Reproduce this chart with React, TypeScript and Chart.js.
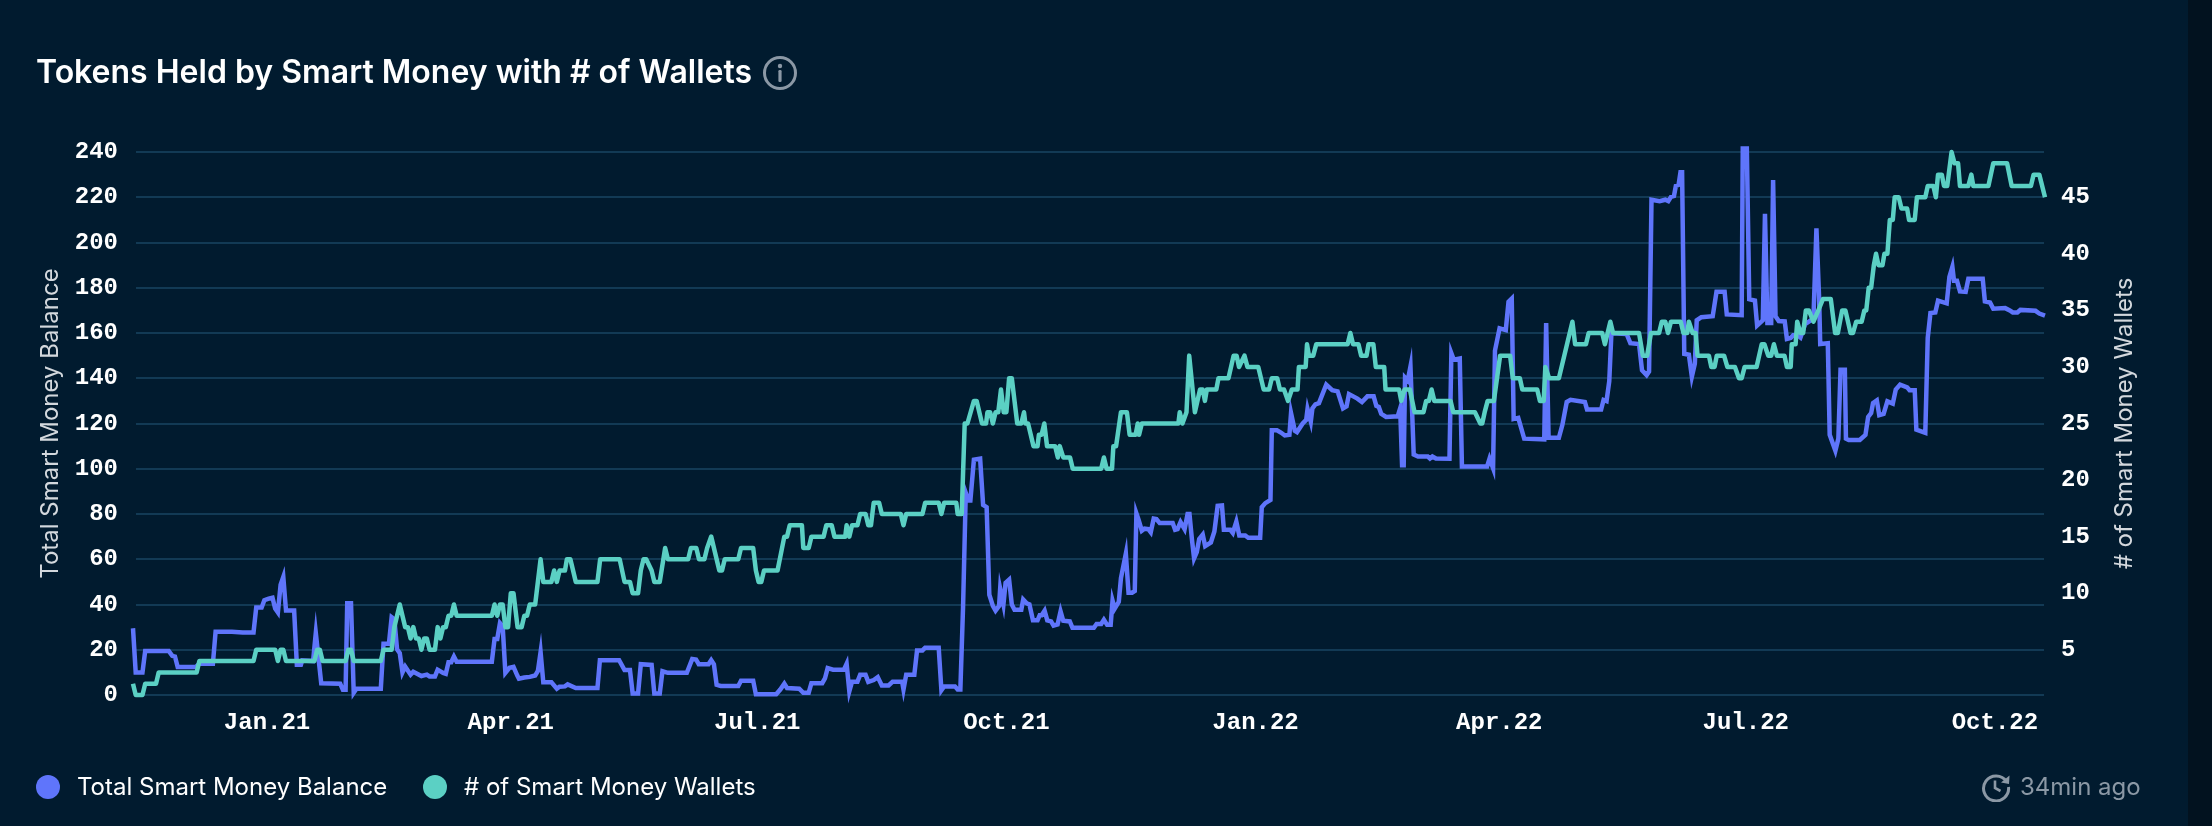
import React, { useEffect, useRef } from "react";
import { Chart, registerables } from "chart.js";
Chart.register(...registerables);

const titleText = "Tokens Held by Smart Money with # of Wallets";
const balanceName = "Total Smart Money Balance";
const walletsName = "# of Smart Money Wallets";
const updatedText = "34min ago";

// x is days since 12 Nov 2020
const tickDays = [50, 140, 231, 323, 415, 505, 596, 688];
const tickLabels = ["Jan.21", "Apr.21", "Jul.21", "Oct.21", "Jan.22", "Apr.22", "Jul.22", "Oct.22"];
const walletTicks = [5, 10, 15, 20, 25, 30, 35, 40, 45];

const walletDays = [
  0.5, 1.5, 4, 5, 9, 10, 24, 25, 45, 46, 53, 54, 55, 56, 57, 67.5, 68.5, 69.5, 70.5, 79, 80, 81, 82, 92, 93, 96, 97, 99, 101, 102,
  103, 104, 105, 106, 107, 108, 109, 110, 112, 113, 114, 115, 116, 117, 118, 119, 120, 133, 134, 135, 136, 137, 138, 139, 140, 141, 142.5, 144, 145, 146,
  147, 149, 150, 151, 152, 155, 156, 157, 158, 160, 160.7, 162, 164, 172, 173, 180.2, 182, 184, 185, 187, 188, 189, 190, 192, 193, 195, 197, 198, 205.5, 206.5,
  208.5, 209.5, 211.5, 212.5, 214, 217, 218, 219, 224, 225, 229.5, 230.5, 231.5, 232.5, 233.5, 238.5, 241, 242, 243, 247.5, 248, 250, 251, 255.5, 256.5, 258.5, 259.5, 263.5, 264, 265,
  266, 268, 269, 271, 272, 273, 274, 276, 277, 284, 285, 286, 292, 293, 298, 299, 300, 304.5, 305, 306.5, 307.6, 308.6, 311, 312, 314, 315.5, 316, 317, 318, 319,
  320, 321, 322, 323, 324, 325, 327, 328.5, 329.5, 330, 331, 333, 334.5, 335, 336, 337, 338, 341, 342, 342.7, 344, 346.5, 347.5, 358, 359, 360, 362, 362.5,
  363.5, 365.3, 367.5, 368.5, 370.7, 371.5, 372, 373, 386.5, 387, 388, 389.5, 390.5, 392.6, 394.5, 395.5, 396.3, 397, 400.5, 401.3, 405, 406.9, 408, 408.9, 410.9, 412, 416, 418, 420, 421,
  423, 424, 425.5, 427, 428.4, 430.5, 431, 433.5, 434, 434.7, 436.3, 437.4, 449, 450, 451, 453, 454, 456, 456.7, 458.5, 459.4, 462.5, 463, 468, 468.8, 470, 472, 473.7, 477, 478,
  479, 480, 481, 487, 488, 496, 498, 498.7, 499.6, 500.7, 503, 505.3, 509, 510, 512.6, 513.5, 519, 520, 521.4, 522, 523.4, 527, 532, 533, 537, 538, 543, 544,
  545, 546, 547, 556.6, 558, 559.6, 561, 564, 565, 566.3, 567.3, 568.4, 572, 573, 574.4, 575, 576.4, 577.5, 578.2, 582.4, 583.3, 584.5, 585.3, 588, 589.2, 592, 593.5, 594.5, 595.6, 600,
  601.9, 602.9, 604.3, 605.4, 606.4, 607.5, 610.3, 611.2, 612.6, 613, 614.4, 615, 616.2, 617.2, 618.2, 619.3, 621, 622.8, 624.5, 627.4, 629, 630, 631.6, 632.8, 634.7, 635.6, 636.8, 638.8, 639.8, 640.5,
  641.4, 642.3, 643.3, 644.1, 645, 646.5, 647.2, 648.3, 649.2, 650.3, 651, 652.5, 653.5, 655.6, 656.3, 658.4, 659.2, 662.3, 663.2, 665.3, 666.2, 667, 668.4, 669.2, 670.4, 672, 673.1, 674.4, 675.1, 678.2,
  679.3, 680, 685.6, 687.4, 692.5, 694.2, 701.3, 702.3, 704.4, 706.5,
];
const walletValues = [
  2, 1, 1, 2, 2, 3, 3, 4, 4, 5, 5, 4, 5, 5, 4, 4, 5, 5, 4, 4, 5, 5, 4, 4, 5, 5, 7, 9, 7, 7,
  6, 7, 6, 6, 5, 6, 6, 5, 5, 7, 6, 7, 7, 8, 8, 9, 8, 8, 9, 8, 9, 9, 7, 7, 10, 10, 7, 7, 8, 8,
  9, 9, 11, 13, 11, 11, 12, 11, 12, 12, 13, 13, 11, 11, 13, 13, 11, 11, 10, 10, 12, 13, 13, 12, 11, 11, 14, 13, 13, 14,
  14, 13, 13, 14, 15, 12, 12, 13, 13, 14, 14, 12, 11, 11, 12, 12, 15, 15, 16, 16, 14, 14, 15, 15, 16, 16, 15, 15, 16, 15,
  16, 16, 17, 17, 16, 16, 18, 18, 17, 17, 16, 17, 17, 18, 18, 17, 18, 18, 17, 17, 25, 25, 27, 27, 25, 25, 26, 26, 25, 26,
  26, 28, 26, 26, 29, 29, 25, 25, 26, 25, 25, 23, 23, 24, 24, 25, 23, 23, 22, 23, 22, 22, 21, 21, 22, 21, 21, 23,
  23, 26, 26, 24, 24, 25, 24, 25, 25, 26, 25, 26, 31, 26, 28, 28, 27, 28, 28, 29, 29, 31, 31, 30, 31, 30, 30, 28, 28, 29,
  29, 28, 28, 27, 28, 28, 30, 30, 32, 31, 31, 32, 32, 33, 32, 32, 31, 31, 32, 32, 30, 30, 28, 28, 27, 28, 28, 26, 26, 27,
  27, 28, 27, 27, 26, 26, 25, 25, 26, 27, 27, 31, 31, 29, 29, 28, 28, 27, 27, 30, 29, 29, 34, 32, 32, 33, 33, 32,
  33, 34, 33, 33, 31, 31, 33, 33, 34, 34, 33, 34, 34, 33, 33, 34, 33, 33, 31, 31, 30, 30, 31, 31, 30, 30, 29, 29, 30, 30,
  32, 32, 31, 31, 32, 31, 31, 30, 30, 32, 32, 34, 33, 33, 35, 35, 34, 35, 36, 36, 33, 33, 35, 35, 33, 33, 34, 34, 35, 35,
  37, 37, 39, 40, 39, 39, 40, 40, 43, 43, 45, 45, 44, 44, 43, 43, 45, 45, 46, 46, 45, 47, 47, 46, 46, 49, 48, 48, 46, 46,
  47, 46, 46, 48, 48, 46, 46, 47, 47, 45,
];

const balanceDays = [
  0.5, 1.5, 4, 5, 13.7, 15, 16, 17, 23.7, 25, 30, 31, 37, 41, 45, 46, 48, 49, 50.6, 52, 53, 54, 55, 56, 57, 60, 61, 62.5, 63, 67,
  68, 70, 77, 78, 79, 79.6, 81, 82, 83, 92, 93, 95, 96, 97, 98, 99, 100, 101, 103, 104, 107, 109, 110, 112, 113, 115, 116, 117, 118, 119,
  120, 133, 134, 135, 136, 137, 138, 139.5, 141, 142.4, 143, 145, 147, 149, 150, 151, 152, 155, 157, 158, 160, 161, 164, 172, 172.9, 180, 182, 184, 185, 187,
  188, 192, 193, 195, 196, 198, 205, 207, 208.4, 209.4, 213, 214, 215, 216, 217.5, 224, 225, 229.5, 230.5, 238, 239.5, 241, 242, 246.5, 248, 250, 251, 255, 256, 257,
  259, 263, 264, 265, 266, 268, 269, 271, 272, 274, 275.5, 277, 279.5, 281, 284.5, 285, 286, 289, 290, 292, 293, 298, 299, 300, 304, 305, 306, 307, 308, 309,
  309.7, 311, 313.3, 314.4, 315.7, 316.7, 318, 319, 320.3, 320.7, 321.9, 322.7, 324, 325, 326, 328.5, 329.2, 330.5, 331.5, 332.8, 334.5, 335.3, 336, 337.1, 338.1, 339.5, 340.4, 341.9, 343, 344,
  346.4, 347.4, 355.3, 356.3, 358, 359, 360.2, 361.5, 362.2, 363, 364.5, 365.3, 367.1, 368.1, 369.4, 370.4, 371, 371.8, 373, 374, 375.4, 376.3, 377.4, 378.4, 379.6, 384.4, 385.3, 386.2, 387.3, 388.8,
  389.9, 390.6, 391.5, 392.3, 393.3, 394.2, 395.5, 396.4, 398.5, 399.8, 401, 402.6, 403.3, 405.7, 406.6, 407.9, 409, 411.2, 412.3, 416.7, 417.3, 418.6, 420.5, 421, 422.9, 424.5, 425.8, 427.5, 428.1, 429.5,
  430.3, 432.4, 433.7, 434.2, 435.4, 436, 437.1, 438.4, 441.1, 443.3, 445.3, 447.3, 448.6, 449.5, 452.6, 454.3, 456.3, 458.6, 459.6, 460.5, 461.4, 463.2, 467.5, 468.4, 469.1, 469.7, 470.2, 471.2, 472.2, 473.4,
  475, 478.6, 479.4, 480.3, 481.6, 486.6, 487.3, 488.2, 490.4, 491.2, 500.5, 501.4, 502.7, 503.4, 505.1, 507.4, 508.4, 509.6, 510.3, 512, 514.2, 521.6, 522.3, 523.2, 527, 528.3, 529.9, 531.3, 536.6, 537.4,
  542.6, 543.5, 544.6, 545.6, 546.4, 552, 553.4, 556.6, 557.7, 559.4, 560.3, 561.2, 564.2, 566.3, 567.4, 568.4, 569.5, 570.2, 571.2, 571.9, 572.5, 573.3, 575, 576.1, 577.2, 577.9, 579.6, 583.8, 585.2, 588.2,
  589, 594.5, 594.9, 596.4, 597.3, 599.4, 600.2, 602.3, 603.1, 604, 605.4, 606.1, 607, 608.2, 610.4, 611.2, 612.6, 613.5, 615.1, 616.2, 617.9, 620, 621, 622.1, 623.1, 623.5, 626.3, 627, 629.1, 630.2,
  631, 632.6, 633, 634, 638.1, 640.2, 641.2, 642.3, 643, 644.4, 645.3, 646.9, 648.3, 650.3, 651.4, 653, 655.6, 656.5, 658.4, 659, 662.3, 663.2, 664.2, 666, 667, 670.2, 671.2, 672.3, 672.9, 674,
  675.1, 677.2, 678.2, 683.5, 684.3, 686.2, 687.4, 691.8, 693.5, 694.6, 696.3, 697.4, 703, 704.4, 706.5,
];
const balanceValues = [
  29.5, 10, 10, 19.5, 19.5, 17.3, 17, 12.4, 12.4, 13.8, 13.8, 28, 28, 27.6, 27.6, 38.7, 38.7, 41.9, 42.6, 43, 38.2, 36.5, 48.7, 52.2, 37.3, 37.3, 13.4, 13.4, 15.3, 15,
  27.4, 5.2, 5, 2.3, 2.3, 40.5, 40.5, 1, 2.8, 2.8, 22.7, 22.7, 34.4, 33.5, 20.2, 18.5, 10, 12.6, 9, 10.3, 8.4, 9, 8.2, 8.2, 11.2, 9.8, 9.4, 14.5, 14.5, 17,
  14.7, 14.7, 24.8, 24.8, 31.8, 30.4, 9.8, 12, 12.4, 8.6, 7.2, 7.7, 8, 8.6, 10.6, 19, 5.6, 5.6, 2.8, 3.7, 3.8, 4.7, 3.1, 3.1, 15.4, 15.4, 11, 11, 0.7, 0.7,
  13.6, 13.3, 0.7, 0.7, 10.5, 9.8, 9.8, 15.9, 15.7, 13.6, 13.6, 15.4, 13.6, 4.5, 4, 4, 6.3, 6.3, 0.3, 0.3, 2.4, 5, 3.1, 2.8, 1, 1, 5.2, 5.2, 7.3, 11.9,
  11.2, 11.2, 13.8, 1.6, 5.9, 5.9, 8.9, 8.9, 5.8, 6.6, 7.9, 4.2, 4.2, 5.9, 5.9, 2.4, 9, 9, 19.7, 19.7, 20.9, 20.9, 2.1, 3.8, 3.8, 2.4, 2.4, 39, 89.4, 86,
  86, 104, 104.5, 84, 83, 44.3, 39.4, 37.3, 39.4, 47, 40, 49.6, 51, 40, 37.7, 37.7, 42.2, 40.5, 40, 33, 33, 35.3, 35.3, 37.3, 33, 32.5, 30.7, 31.2, 37, 32.8,
  32.5, 29.7, 29.7, 31.4, 31.4, 33.3, 31, 31, 41.7, 38.2, 41.2, 51.7, 62.5, 45.2, 45.2, 46, 80.3, 77.5, 72.6, 73.5, 73.3, 71.9, 78, 77.8, 76, 76, 73, 73.3, 76.4, 73.3,
  80, 80, 68.8, 60.4, 63.2, 69, 70.9, 65.8, 67.4, 72.3, 83.6, 83.8, 73, 73, 71.6, 76.6, 70.5, 70.5, 69.5, 69.5, 83, 84.8, 86.2, 117, 117, 115.9, 114.7, 115, 124.6, 116.8,
  116.2, 120, 121.6, 126.4, 120.8, 126.7, 128.4, 129, 137.2, 134.7, 134.2, 126.7, 127.6, 133, 131, 129.5, 132, 132, 127.8, 127.3, 124.3, 122.9, 123.2, 126.7, 101.6, 101.6, 140.3, 139, 145.2, 106.3,
  105.4, 105.4, 104.5, 105.4, 104.5, 104.4, 151.1, 148.2, 148.7, 101, 101, 104.5, 100.2, 152.2, 162.1, 161.3, 173.8, 175.2, 122, 122.5, 113.3, 113, 164.4, 113.8, 113.7, 119.4, 129.5, 130.5, 129.5, 126.2,
  126.2, 130.4, 129.9, 138.6, 159.9, 159.6, 155.5, 155.1, 143.5, 141.4, 143, 218.9, 218.3, 218.9, 218.3, 220.2, 220.6, 225, 225.5, 231, 231, 150.8, 150.4, 140.7, 146.4, 165.6, 167, 167.4, 178.2, 178.2,
  168.2, 167.9, 241.5, 241.5, 174.9, 174.3, 163.3, 165.6, 212.7, 164.4, 164.4, 227.6, 167.4, 165.3, 165.1, 157.4, 157.8, 159, 159, 158, 163.9, 165.6, 166.5, 206.3, 175.2, 155.1, 155.5, 115, 108, 113.3,
  143.8, 143.8, 113.3, 112.7, 112.7, 115, 122.9, 124.6, 129, 130.2, 123.7, 124.2, 129.8, 128.8, 135, 137.2, 136, 134.7, 134.7, 117.3, 115.9, 157.8, 168.8, 169.1, 174.3, 173.1, 184.8, 189.2, 183.1, 183.1,
  178.4, 178.2, 184, 184, 174, 173.5, 170.7, 171, 170, 169.1, 169.1, 170.2, 169.8, 168.6, 167.7,
];

const toPoints = (xs: number[], ys: number[]) => xs.map((x, i) => ({ x, y: ys[i] }));

const BLUE = "#5f75fb";
const TEAL = "#5bd0c4";
const BG = "#011b2f";
const GRID = "#123a55";
const AXIS_TEXT = "#d3d8dd";
const MUTED = "#8b98a5";
const SANS = "Inter, 'Noto Sans', sans-serif";
const MONO = "'Liberation Mono', monospace";

// Gridlines start and stop a few pixels inside the reach of the lines,
// and the right axis title reads bottom-to-top like the left one.
const chartExtras = {
  id: "chartExtras",
  beforeDatasetsDraw(chart: any) {
    const { ctx, scales } = chart;
    ctx.save();
    ctx.fillStyle = GRID;
    for (const t of scales.y.ticks) {
      const py = Math.round(scales.y.getPixelForValue(t.value));
      ctx.fillRect(136, py - 1, 1908, 2);
    }
    ctx.restore();
  },
  afterDraw(chart: any) {
    const { ctx, chartArea } = chart;
    ctx.save();
    ctx.translate(2125, (chartArea.top + chartArea.bottom) / 2);
    ctx.rotate(-Math.PI / 2);
    ctx.textAlign = "center";
    ctx.textBaseline = "middle";
    ctx.fillStyle = AXIS_TEXT;
    ctx.font = `24px ${SANS}`;
    ctx.fillText(walletsName, 0, 0);
    ctx.restore();
  },
};

function Dot({ color }: { color: string }) {
  return <span style={{ width: 24, height: 24, borderRadius: 12, background: color, display: "block" }} />;
}

export default function App() {
  const ref = useRef<HTMLCanvasElement>(null);
  useEffect(() => {
    document.body.style.margin = "0";
    document.body.style.background = BG;
    const chart = new Chart(ref.current as HTMLCanvasElement, {
      type: "line",
      plugins: [chartExtras],
      data: {
        datasets: [
          {
            label: balanceName,
            data: toPoints(balanceDays, balanceValues),
            yAxisID: "y",
            borderColor: BLUE,
            backgroundColor: BLUE,
            borderWidth: 4.5,
            pointRadius: 0,
            tension: 0,
            clip: false,
            order: 2,
          },
          {
            label: walletsName,
            data: toPoints(walletDays, walletValues),
            yAxisID: "y1",
            borderColor: TEAL,
            backgroundColor: TEAL,
            borderWidth: 4.5,
            borderJoinStyle: "round",
            pointRadius: 0,
            tension: 0,
            clip: false,
            order: 1,
          },
        ],
      },
      options: {
        animation: false,
        responsive: false,
        devicePixelRatio: 1,
        parsing: false,
        normalized: true,
        layout: { padding: { left: 36, right: 72, top: 152, bottom: 91 } },
        plugins: { legend: { display: false }, title: { display: false }, tooltip: { enabled: false } },
        scales: {
          x: {
            type: "linear",
            min: 0.5,
            max: 706.5,
            grid: { display: false },
            border: { display: false },
            afterFit: (s: any) => { s.height = 40; },
            afterBuildTicks: (s: any) => { s.ticks = tickDays.map((value) => ({ value })); },
            ticks: {
              autoSkip: false,
              maxRotation: 0,
              padding: 6,
              color: "#ffffff",
              font: { family: MONO, size: 24, weight: "bold" },
              callback: (v: any) => tickLabels[tickDays.indexOf(Number(v))] ?? "",
            },
          },
          y: {
            position: "left",
            min: 0,
            max: 240,
            grid: { display: false, drawTicks: false },
            border: { display: false },
            afterFit: (s: any) => { s.width = 97; },
            ticks: {
              stepSize: 20,
              padding: 15,
              color: "#ffffff",
              font: { family: MONO, size: 24, weight: "bold" },
            },
            title: { display: true, text: balanceName, color: AXIS_TEXT, padding: 0, font: { family: SANS, size: 24 } },
          },
          y1: {
            position: "right",
            min: 1,
            max: 49,
            grid: { display: false, drawTicks: false },
            border: { display: false },
            afterFit: (s: any) => { s.width = 95; },
            afterBuildTicks: (s: any) => { s.ticks = walletTicks.map((value) => ({ value })); },
            ticks: {
              padding: 16,
              color: "#ffffff",
              font: { family: MONO, size: 24, weight: "bold" },
            },
          },
        },
      },
    } as any);
    return () => chart.destroy();
  }, []);

  return (
    <div style={{ position: "fixed", left: 0, top: 0, width: 2212, height: 826, background: BG, overflow: "hidden", fontFamily: SANS }}>
      <canvas ref={ref} width={2212} height={826} style={{ position: "absolute", left: 0, top: 0, width: 2212, height: 826 }} />
      <div style={{ position: "absolute", left: 2188, top: 0, width: 24, height: 826, background: "#02121f" }} />
      <div style={{ position: "absolute", left: 36, top: 52, height: 40, lineHeight: "40px", fontSize: 32, fontWeight: 600, color: "#fff", whiteSpace: "nowrap" }}>
        {titleText}
      </div>
      <svg width="36" height="36" viewBox="0 0 36 36" style={{ position: "absolute", left: 762, top: 55 }}>
        <circle cx="18" cy="18" r="15.5" fill="none" stroke={MUTED} strokeWidth="3" />
        <circle cx="18" cy="11" r="2.2" fill={MUTED} />
        <rect x="16.4" y="15" width="3.2" height="12" rx="1.2" fill={MUTED} />
      </svg>
      <div style={{ position: "absolute", left: 36, top: 775 }}><Dot color={BLUE} /></div>
      <div style={{ position: "absolute", left: 77, top: 767, height: 40, lineHeight: "40px", fontSize: 24, color: "#fff", whiteSpace: "nowrap" }}>{balanceName}</div>
      <div style={{ position: "absolute", left: 423, top: 775 }}><Dot color={TEAL} /></div>
      <div style={{ position: "absolute", left: 464, top: 767, height: 40, lineHeight: "40px", fontSize: 24, color: "#fff", whiteSpace: "nowrap" }}>{walletsName}</div>
      <svg width="30" height="30" viewBox="0 0 30 30" style={{ position: "absolute", left: 1981, top: 772 }}>
        <path d="M25.5 9.5 A12.5 12.5 0 1 0 27.5 15" fill="none" stroke={MUTED} strokeWidth="3" />
        <path d="M28.5 3.5 L28 12 L20 10.5 Z" fill={MUTED} />
        <path d="M14 8.5 V16 L19.5 19" fill="none" stroke={MUTED} strokeWidth="2.6" />
      </svg>
      <div style={{ position: "absolute", left: 2020, top: 767, height: 40, lineHeight: "40px", fontSize: 24, color: MUTED, whiteSpace: "nowrap" }}>{updatedText}</div>
    </div>
  );
}
